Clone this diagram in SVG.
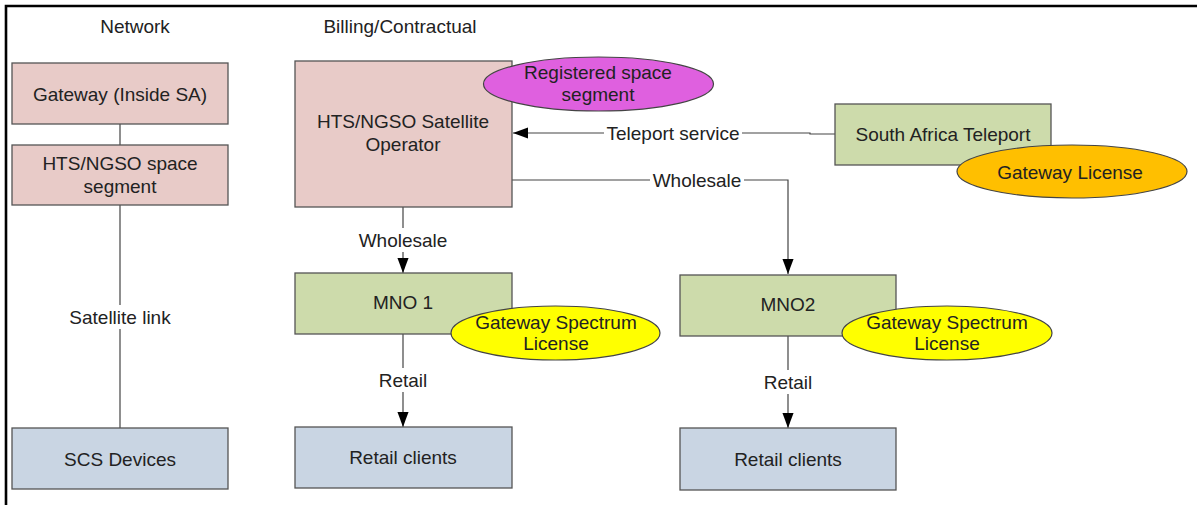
<svg xmlns="http://www.w3.org/2000/svg" width="1197" height="505" viewBox="0 0 1197 505">
  <style>
    text { font-family: "Liberation Sans", Arial, sans-serif; font-size: 19px; fill: #222; text-anchor: middle; dominant-baseline: central; }
    .box { stroke: #555; stroke-width: 1.3; }
    .pink { fill: #e8cbc8; }
    .green { fill: #cddbab; }
    .blue { fill: #c9d5e3; }
    .oval { stroke: #444; stroke-width: 1.2; }
    .link { fill: none; stroke: #444; stroke-width: 1.2; }
    .lbl { fill: #fff; }
  </style>
  <defs>
    <marker id="arrowBig" viewBox="0 0 10 10" refX="10" refY="5" markerWidth="15" markerHeight="15" markerUnits="userSpaceOnUse" orient="auto">
      <path d="M0,1.3 L10,5 L0,8.7 Z" fill="#000"/>
    </marker>
  </defs>

  <rect width="1197" height="505" fill="#fff"/>
  <!-- page frame -->
  <path d="M6,505 V6 H1197" fill="none" stroke="#000" stroke-width="2.6"/>

  <!-- column headings -->
  <text x="135" y="26">Network</text>
  <text x="400" y="26">Billing/Contractual</text>

  <!-- connectors -->
  <g id="connectors">
    <line class="link" x1="120" y1="124" x2="120" y2="145"/>
    <line class="link" x1="120" y1="205" x2="120" y2="428"/>
    <rect class="lbl" x="58" y="305" width="124" height="24"/>
    <text x="120" y="317">Satellite link</text>

    <line class="link" x1="403" y1="207" x2="403" y2="273" marker-end="url(#arrowBig)"/>
    <rect class="lbl" x="354" y="228" width="98" height="24"/>
    <text x="403" y="240">Wholesale</text>

    <line class="link" x1="403" y1="334" x2="403" y2="427" marker-end="url(#arrowBig)"/>
    <rect class="lbl" x="372" y="368" width="62" height="24"/>
    <text x="403" y="380">Retail</text>

    <line class="link" x1="788" y1="336" x2="788" y2="428" marker-end="url(#arrowBig)"/>
    <rect class="lbl" x="757" y="370" width="62" height="24"/>
    <text x="788" y="382">Retail</text>

    <path class="link" d="M835,134 H810 V133 H513" marker-end="url(#arrowBig)"/>
    <rect class="lbl" x="604" y="121" width="138" height="24"/>
    <text x="673" y="133">Teleport service</text>

    <path class="link" d="M512,180 H788 V274" marker-end="url(#arrowBig)"/>
    <rect class="lbl" x="650" y="168" width="94" height="24"/>
    <text x="697" y="180">Wholesale</text>
  </g>

  <!-- network column -->
  <g id="gateway">
    <rect class="box pink" x="12" y="63" width="216" height="61"/>
    <text x="120" y="94">Gateway (Inside SA)</text>
  </g>
  <g id="space-segment">
    <rect class="box pink" x="12" y="145" width="216" height="60"/>
    <text x="120" y="163">HTS/NGSO space</text>
    <text x="120" y="186">segment</text>
  </g>
  <g id="scs-devices">
    <rect class="box blue" x="12" y="428" width="216" height="61"/>
    <text x="120" y="459">SCS Devices</text>
  </g>

  <!-- billing column -->
  <g id="operator">
    <rect class="box pink" x="295" y="61" width="217" height="146"/>
    <text x="403" y="121">HTS/NGSO Satellite</text>
    <text x="403" y="144">Operator</text>
  </g>
  <g id="registered-space-segment">
    <ellipse class="oval" cx="598.5" cy="84" rx="115" ry="27" fill="#df60df"/>
    <text x="598" y="72">Registered space</text>
    <text x="598" y="94">segment</text>
  </g>
  <g id="teleport">
    <rect class="box green" x="835" y="104" width="216" height="61" stroke="#333"/>
    <text x="943" y="134">South Africa Teleport</text>
  </g>
  <g id="gateway-license">
    <ellipse class="oval" cx="1072" cy="171.5" rx="115" ry="26.5" fill="#ffbf00"/>
    <text x="1070" y="172">Gateway License</text>
  </g>
  <g id="mno1">
    <rect class="box green" x="295" y="273" width="217" height="61" stroke="#333"/>
    <text x="403" y="302">MNO 1</text>
  </g>
  <g id="mno1-license">
    <ellipse class="oval" cx="555.5" cy="333" rx="104.5" ry="27" fill="#ffff00"/>
    <text x="556" y="322">Gateway Spectrum</text>
    <text x="556" y="343">License</text>
  </g>
  <g id="retail-clients-1">
    <rect class="box blue" x="295" y="427" width="217" height="61"/>
    <text x="403" y="457">Retail clients</text>
  </g>
  <g id="mno2">
    <rect class="box green" x="680" y="275" width="216" height="61"/>
    <text x="788" y="304">MNO2</text>
  </g>
  <g id="mno2-license">
    <ellipse class="oval" cx="947" cy="333" rx="105" ry="27" fill="#ffff00"/>
    <text x="947" y="322">Gateway Spectrum</text>
    <text x="947" y="343">License</text>
  </g>
  <g id="retail-clients-2">
    <rect class="box blue" x="680" y="428" width="216" height="62"/>
    <text x="788" y="459">Retail clients</text>
  </g>
</svg>
